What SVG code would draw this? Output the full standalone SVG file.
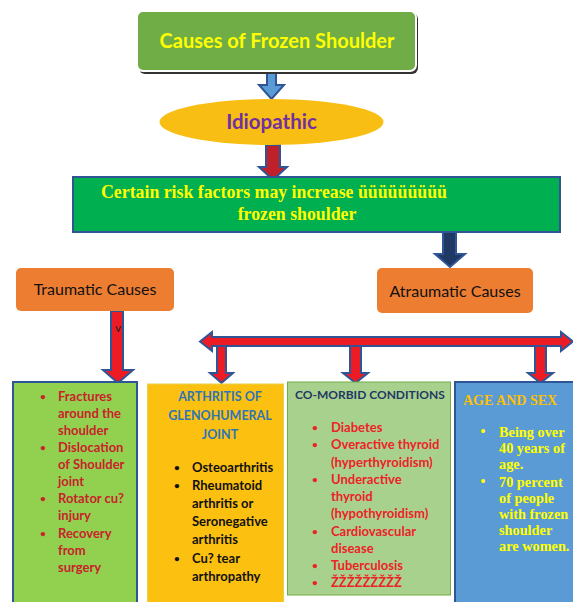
<svg xmlns="http://www.w3.org/2000/svg" width="573" height="602" viewBox="0 0 573 602">
<style>
.arr{stroke:#2F5597;stroke-width:2;stroke-linejoin:miter}
.cal{font-family:Lato,"Open Sans","Liberation Sans",sans-serif}
.tim{font-family:"Liberation Serif","Times New Roman",serif;font-weight:bold}
.b{font-weight:bold}
.t1{font-size:13px;font-weight:bold;fill:#C8232B}
.t2{font-size:13px;font-weight:bold;fill:#111}
.t3{font-size:13px;font-weight:bold;fill:#EC2227}
.t4{font-size:14.3px;fill:#FFFF00}
.bl{font-size:10px}
.by{font-family:"Liberation Sans",sans-serif;font-size:14px;fill:#FFFF00}
</style>
<rect width="573" height="602" fill="#fff"/>
<g id="connectors">
<polygon class="arr" fill="#5B9BD5" points="267,72 276,72 276,85 284,85 271.5,99 259,85 267,85"/>
<polygon class="arr" fill="#C0202A" points="266,145 280,145 280,167 287,167 273,180 259,167 266,167"/>
<polygon class="arr" fill="#203864" points="443,232 456,232 456,254 465,254 450,267 435,254 443,254"/>
<polygon class="arr" fill="#ED1C24" points="111,311 123,311 123,370 133,370 118,383 103,370 111,370"/>
<polygon class="arr" fill="#ED1C24" points="217,344 226,344 226,373 233,373 221.5,383 210,373 217,373"/>
<polygon class="arr" fill="#ED1C24" points="350,344 361,344 361,373 368,373 355.5,383 343,373 350,373"/>
<polygon class="arr" fill="#ED1C24" points="535,344 546,344 546,373 553,373 540.5,383 528,373 535,373"/>
<polygon class="arr" fill="#ED1C24" points="200,341.5 212,332 212,337 561,337 561,332 573,341.5 561,351 561,346 212,346 212,351"/>
<text x="118" y="332" class="cal" font-size="12" text-anchor="middle" fill="#222">v</text>
</g>
<g id="title">
<rect x="139" y="13" width="279" height="61" rx="6" fill="#333"/>
<rect x="137" y="11" width="279" height="60" rx="6" fill="#70AD47" stroke="#fff" stroke-width="2"/>
<text x="277" y="48" class="cal b" font-size="20" text-anchor="middle" fill="#FFFF00">Causes of Frozen Shoulder</text>
</g>
<g id="idiopathic">
<ellipse cx="271.5" cy="122" rx="112" ry="23" fill="#F9BE13"/>
<text x="271.5" y="129" class="cal b" font-size="20.5" text-anchor="middle" fill="#7030A0">Idiopathic</text>
</g>
<g id="risk">
<rect x="73" y="177" width="487" height="55" fill="#00B050" stroke="#2F5597" stroke-width="2"/>
<text x="101" y="198" class="tim" font-size="17.8" fill="#FFFF00">Certain risk factors may increase üüüüüüüüü</text>
<text x="297" y="220" class="tim" font-size="17.8" text-anchor="middle" fill="#FFFF00">frozen shoulder</text>
</g>
<g id="traumatic">
<rect x="16" y="268" width="158" height="43" rx="5" fill="#ED7D31"/>
<text x="95" y="295" class="cal" font-size="16" text-anchor="middle" fill="#111">Traumatic Causes</text>
</g>
<g id="atraumatic">
<rect x="377" y="268" width="156" height="45" rx="5" fill="#ED7D31"/>
<text x="455" y="297" class="cal" font-size="16" text-anchor="middle" fill="#111">Atraumatic Causes</text>
</g>
<g id="traumatic-list">
<rect x="13" y="382" width="124" height="222" fill="#92D050" stroke="#2F5597" stroke-width="2"/>
<g class="cal t1">
<text x="43" y="400" class="bl" text-anchor="middle">•</text><text x="58" y="401">Fractures</text>
<text x="58" y="418">around the</text>
<text x="58" y="435">shoulder</text>
<text x="43" y="451" class="bl" text-anchor="middle">•</text><text x="58" y="452">Dislocation</text>
<text x="58" y="469">of Shoulder</text>
<text x="58" y="486">joint</text>
<text x="43" y="502" class="bl" text-anchor="middle">•</text><text x="58" y="503">Rotator cu?</text>
<text x="58" y="520">injury</text>
<text x="43" y="537" class="bl" text-anchor="middle">•</text><text x="58" y="538">Recovery</text>
<text x="58" y="555">from</text>
<text x="58" y="572">surgery</text>
</g>
</g>
<g id="arthritis">
<rect x="147.5" y="384" width="136" height="220" fill="#FCC010" stroke="#E5D24A" stroke-width="1"/>
<g class="cal b" font-size="12.5" fill="#2E75B6" text-anchor="middle">
<text x="220" y="401">ARTHRITIS OF</text>
<text x="220" y="420">GLENOHUMERAL</text>
<text x="220" y="439">JOINT</text>
</g>
<g class="cal t2">
<text x="177" y="471" class="bl" text-anchor="middle">•</text><text x="192" y="472">Osteoarthritis</text>
<text x="177" y="489" class="bl" text-anchor="middle">•</text><text x="192" y="490">Rheumatoid</text>
<text x="192" y="508">arthritis or</text>
<text x="192" y="526">Seronegative</text>
<text x="192" y="544">arthritis</text>
<text x="177" y="562" class="bl" text-anchor="middle">•</text><text x="192" y="563">Cu? tear</text>
<text x="192" y="581">arthropathy</text>
</g>
</g>
<g id="comorbid">
<rect x="287.5" y="382" width="163" height="213" fill="#A9D18E" stroke="#70AD47" stroke-width="1"/>
<text x="295" y="399" class="cal b" font-size="12" fill="#1F3864">CO-MORBID CONDITIONS</text>
<g class="cal t3">
<text x="315" y="431" class="bl" text-anchor="middle">•</text><text x="331" y="432">Diabetes</text>
<text x="315" y="448" class="bl" text-anchor="middle">•</text><text x="331" y="449">Overactive thyroid</text>
<text x="331" y="467">(hyperthyroidism)</text>
<text x="315" y="483" class="bl" text-anchor="middle">•</text><text x="331" y="484">Underactive</text>
<text x="331" y="501">thyroid</text>
<text x="331" y="518">(hypothyroidism)</text>
<text x="315" y="535" class="bl" text-anchor="middle">•</text><text x="331" y="536">Cardiovascular</text>
<text x="331" y="553">disease</text>
<text x="315" y="569" class="bl" text-anchor="middle">•</text><text x="331" y="570">Tuberculosis</text>
<text x="315" y="586" class="bl" text-anchor="middle">•</text><text x="331" y="587">ŽŽŽŽŽŽŽŽŽ</text>
</g>
</g>
<g id="age-sex">
<rect x="455" y="382" width="122" height="222" fill="#5B9BD5" stroke="#2F5597" stroke-width="2"/>
<text x="463" y="405" class="tim" font-size="14" fill="#FFC000">AGE AND SEX</text>
<text x="483" y="436" class="by" text-anchor="middle">•</text>
<text x="483" y="486" class="by" text-anchor="middle">•</text>
<g class="tim t4">
<text x="499" y="437"> Being over</text>
<text x="499" y="453">40 years of</text>
<text x="499" y="469">age.</text>
<text x="499" y="487">70 percent</text>
<text x="499" y="503">of people</text>
<text x="499" y="519">with frozen</text>
<text x="499" y="535">shoulder</text>
<text x="499" y="551">are women.</text>
</g>
</g>
</svg>
